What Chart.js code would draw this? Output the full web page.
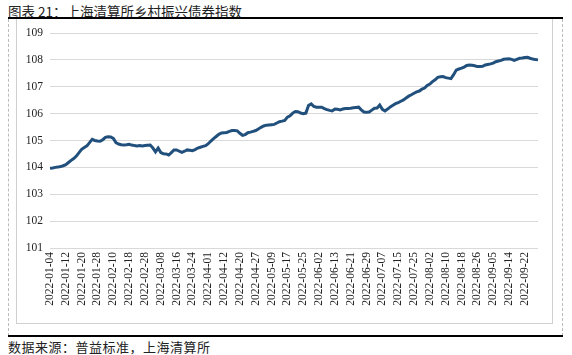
<!DOCTYPE html>
<html>
<head>
<meta charset="utf-8">
<script src="https://cdn.jsdelivr.net/npm/chart.js@4.4.0/dist/chart.umd.min.js"></script>
<style>
  html, body { margin: 0; padding: 0; background: #fff; }
  #wrap { position: relative; width: 572px; height: 355px; overflow: hidden; }
  .title { position: absolute; left: 8px; top: 1px; font: 13.5px "Noto Sans CJK SC", sans-serif; color: #222; white-space: nowrap; }
  .foot { position: absolute; left: 8px; top: 337px; font: 13px "Noto Sans CJK SC", sans-serif; letter-spacing: 0.5px; color: #222; white-space: nowrap; }
  .hline { position: absolute; left: 8px; width: 555px; height: 2px; background: #000; }
  .dash { position: absolute; top: 19px; height: 317px; width: 0; border-left: 1px dashed #bbb; }
  .box { position: absolute; left: 16px; top: 19px; width: 537px; height: 305px; border-left: 1px solid #d0d0d0; border-right: 1px solid #d0d0d0; border-bottom: 1px solid #d0d0d0; box-sizing: border-box; }
  canvas { position: absolute; left: 0; top: 0; }
</style>
</head>
<body>
<div id="wrap">
  <div class="title">图表 21：上海清算所乡村振兴债券指数</div>
  <div class="hline" style="top:17px"></div>
  <div class="dash" style="left:8px"></div>
  <div class="dash" style="left:562px"></div>
  <div class="box"></div>
  <div class="hline" style="top:335px"></div>
  <div class="foot">数据来源：普益标准，上海清算所</div>
  <canvas id="bond-index-chart" width="572" height="355"></canvas>
</div>
<script>
// trading days, 2022 (interbank calendar incl. adjusted weekend workdays)
const jan = ['04','05','06','07','10','11','12','13','14','17','18','19','20','21','24','25','26','27','28','29','30'];
const feb = ['07','08','09','10','11','14','15','16','17','18','21','22','23','24','25','28'];
const mar = ['01','02','03','04','07','08','09','10','11','14','15','16','17','18','21','22','23','24','25','28','29','30','31'];
const apr = ['01','02','06','07','08','11','12','13','14','15','18','19','20','21','22','24','25','26','27','28','29'];
const may = ['05','06','07','09','10','11','12','13','16','17','18','19','20','23','24','25','26','27','30','31'];
const jun = ['01','02','06','07','08','09','10','13','14','15','16','17','20','21','22','23','24','27','28','29','30'];
const jul = ['01','04','05','06','07','08','11','12','13','14','15','18','19','20','21','22','25','26','27','28','29'];
const aug = ['01','02','03','04','05','08','09','10','11','12','15','16','17','18','19','22','23','24','25','26','29','30','31'];
const sep = ['01','02','05','06','07','08','09','13','14','15','16','19','20','21','22','23','26','27','28','29'];

const dates = [].concat(
    jan.map(d => '2022-01-' + d), feb.map(d => '2022-02-' + d), mar.map(d => '2022-03-' + d),
    apr.map(d => '2022-04-' + d), may.map(d => '2022-05-' + d), jun.map(d => '2022-06-' + d),
    jul.map(d => '2022-07-' + d), aug.map(d => '2022-08-' + d), sep.map(d => '2022-09-' + d)
);

const indexValues = [
    103.97, 103.98, 104.00, 104.01, 104.03, 104.06, 104.10, 104.18, 104.26, 104.33,
    104.42, 104.55, 104.67, 104.74, 104.80, 104.92, 105.04, 105.00, 104.98, 104.97,
    105.03, 105.12, 105.14, 105.13, 105.08, 104.92, 104.87, 104.84, 104.83, 104.84,
    104.86, 104.83, 104.81, 104.80, 104.81, 104.80, 104.81, 104.82, 104.83, 104.72,
    104.58, 104.72, 104.55, 104.51, 104.50, 104.46, 104.55, 104.65, 104.65, 104.60,
    104.56, 104.60, 104.65, 104.64, 104.62, 104.66, 104.72, 104.75, 104.78, 104.81,
    104.88, 104.98, 105.07, 105.15, 105.23, 105.28, 105.29, 105.30, 105.34, 105.37,
    105.37, 105.36, 105.27, 105.19, 105.22, 105.29, 105.31, 105.34, 105.37, 105.43,
    105.49, 105.54, 105.57, 105.58, 105.59, 105.60, 105.65, 105.70, 105.72, 105.75,
    105.87, 105.92, 106.02, 106.08, 106.07, 106.02, 106.00, 106.02, 106.30, 106.36,
    106.27, 106.24, 106.24, 106.24, 106.19, 106.15, 106.12, 106.10, 106.17, 106.16,
    106.14, 106.17, 106.19, 106.19, 106.20, 106.22, 106.23, 106.24, 106.14, 106.06,
    106.05, 106.06, 106.13, 106.20, 106.21, 106.32, 106.16, 106.10, 106.17, 106.25,
    106.31, 106.37, 106.41, 106.46, 106.51, 106.58, 106.65, 106.70, 106.76, 106.81,
    106.84, 106.91, 106.95, 107.05, 107.10, 107.19, 107.26, 107.35, 107.37, 107.38,
    107.34, 107.32, 107.30, 107.45, 107.62, 107.66, 107.69, 107.73, 107.79, 107.81,
    107.80, 107.78, 107.75, 107.75, 107.76, 107.81, 107.83, 107.85, 107.88, 107.93,
    107.96, 107.98, 108.02, 108.03, 108.04, 108.02, 107.98, 108.02, 108.06, 108.07,
    108.09, 108.10, 108.06, 108.03, 108.01, 108.00
];

const yMin = 101;
const yMax = 109;
const labelEvery = 6;
const tickFont = { family: "'Liberation Serif', 'Times New Roman', serif", size: 11.5 };

const ctx = document.getElementById('bond-index-chart').getContext('2d');
new Chart(ctx, {
    type: 'line',
    data: {
        labels: dates,
        datasets: [{
            label: '上海清算所乡村振兴债券指数',
            data: indexValues,
            borderColor: '#21507d',
            borderWidth: 3,
            pointRadius: 0,
            tension: 0,
            fill: false
        }]
    },
    options: {
        responsive: false,
        animation: false,
        layout: { padding: { left: 16, right: 34, top: 33, bottom: 37 } },
        plugins: { legend: { display: false }, tooltip: { enabled: false } },
        scales: {
            x: {
                offset: false,
                grid: { display: false, drawTicks: false },
                border: { display: false },
                afterFit: scale => { scale.height = 70; },
                ticks: {
                    autoSkip: false,
                    minRotation: 90,
                    maxRotation: 90,
                    padding: 4,
                    color: '#222',
                    font: tickFont,
                    callback: (val, i) => (i % labelEvery === 0 ? dates[i] : null)
                }
            },
            y: {
                min: yMin,
                max: yMax,
                grid: { color: '#d9d9d9', lineWidth: 1, drawTicks: false },
                border: { display: false },
                afterFit: scale => { scale.width = 34; },
                ticks: {
                    stepSize: 1,
                    padding: 7,
                    color: '#222',
                    font: tickFont
                }
            }
        }
    }
});
</script>
</body>
</html>
